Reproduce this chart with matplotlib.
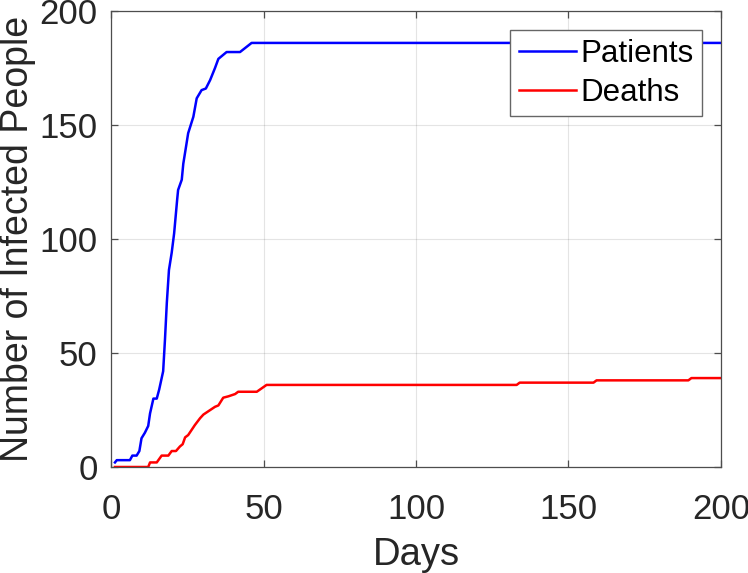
import matplotlib
matplotlib.use("Agg")
import matplotlib.pyplot as plt
import numpy as np

plt.rcParams['font.family'] = ['Liberation Sans', 'DejaVu Sans']

# Patients curve (day, count)
patients_days = [1.3, 1.9, 6.2, 7.0, 8.4, 9.3, 10.0, 11.1, 12.2, 12.8, 13.9, 15.0, 15.8, 17.1,
                 17.7, 18.3, 19.0, 19.9, 20.7, 21.7, 22.0, 23.2, 23.7, 24.6, 25.3, 27.0, 28.1,
                 29.7, 31.1, 32.5, 34.1, 35.2, 37.9, 42.3, 46.1, 200]
patients_vals = [2, 3, 3, 5, 5, 7, 12.6, 15, 18, 23.5, 30, 30, 34, 42,
                 56, 72, 86.4, 94, 102.5, 117.4, 121.5, 126, 133, 140.5, 146.4, 153.6, 161.7,
                 165.3, 166, 169.7, 175, 179, 182, 182, 186, 186]

# Deaths curve (day, count)
deaths_days = [1.3, 12.2, 12.8, 15.0, 16.6, 18.8, 19.9, 21.3, 22.6, 23.5, 24.3, 25.3, 27.5,
               29.2, 30.3, 34.1, 35.2, 36.8, 38.5, 40.7, 41.7, 47.8, 51.0, 133.0, 134.0,
               158.2, 159.2, 189.3, 190.3, 200]
deaths_vals = [0, 0, 2, 2, 5, 5, 7, 7, 9, 10, 13, 14, 18.4,
               21.4, 23, 26.4, 27, 30.4, 31, 32, 33, 33, 36, 36, 37,
               37, 38, 38, 39, 39]

x_ticks = [0, 50, 100, 150, 200]
y_ticks = [0, 50, 100, 150, 200]

fig = plt.figure(figsize=(7.48, 5.73), dpi=100)
ax = fig.add_axes([0.1484, 0.185, 0.8155, 0.7958])

ax.plot(patients_days, patients_vals, color=(0, 0, 1), lw=1.8, label='Patients')
ax.plot(deaths_days, deaths_vals, color=(1, 0, 0), lw=1.8, label='Deaths')

ax.set_xlim(0, 200)
ax.set_ylim(0, 200)
ax.set_xticks(x_ticks)
ax.set_yticks(y_ticks)
ax.grid(True, color=(0.15, 0.15, 0.15), alpha=0.12, lw=0.8)
ax.set_axisbelow(True)
for s in ax.spines.values():
    s.set_color((0.3, 0.3, 0.3))
    s.set_linewidth(0.9)
ax.tick_params(direction='in', top=True, right=True, length=5, width=0.9,
               colors=(0.3, 0.3, 0.3), labelcolor=(0.15, 0.15, 0.15), labelsize=25)
ax.tick_params(axis='x', pad=19)
ax.tick_params(axis='y', pad=9.5)
ax.set_xlabel('Days', fontsize=27.5, color=(0.15, 0.15, 0.15), labelpad=8)
ax.set_ylabel('Number of Infected People', fontsize=27, color=(0.15, 0.15, 0.15), labelpad=3)

leg = ax.legend(loc='upper right', bbox_to_anchor=(0.969, 0.958), fontsize=22.5, frameon=True,
                fancybox=False, edgecolor=(0.4, 0.4, 0.4), framealpha=1,
                handlelength=1.83, handletextpad=0.12, borderpad=0.28, labelspacing=0.28,
                borderaxespad=0)
leg.get_frame().set_linewidth(1.0)

fig.savefig('out.png', dpi=100)
